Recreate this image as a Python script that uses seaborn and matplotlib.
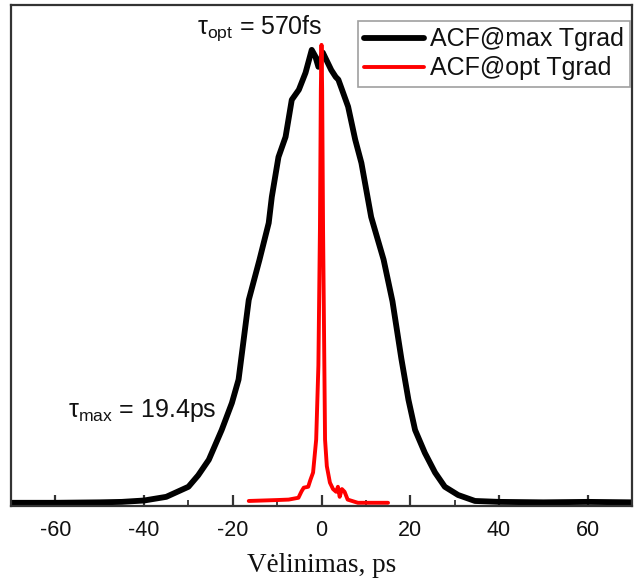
import matplotlib
matplotlib.use("Agg")
import matplotlib.pyplot as plt
import seaborn as sns
import pandas as pd
import numpy as np

# Black ACF (max temperature gradient), normalized
black_x = [-70, -60, -50, -45, -40, -35, -30, -27.8, -25.4, -22.5, -20.2, -18.7,
           -16.4, -14.0, -11.9, -11.2, -9.7, -8.1, -6.7, -5.1, -3.6, -2.2, -1.4,
           -0.7, 0.3, 1.2, 2.2, 3.2, 3.8, 4.4, 6.0, 7.6, 9.0, 11.2, 14.0, 16.0,
           18.0, 19.6, 21.1, 23.3, 25.6, 27.8, 30.8, 34.6, 40, 50, 60, 70]
black_y = [0.0, 0.0, 0.001, 0.002, 0.005, 0.013, 0.035, 0.06, 0.094, 0.159, 0.218, 0.269,
           0.443, 0.53, 0.611, 0.668, 0.755, 0.799, 0.880, 0.902, 0.939, 0.989, 0.975,
           0.952, 0.983, 0.965, 0.945, 0.93, 0.924, 0.908, 0.865, 0.793, 0.742, 0.624, 0.531, 0.44,
           0.315, 0.225, 0.159, 0.109, 0.066, 0.035, 0.017, 0.004, 0.002, 0.001, 0.002, 0.001]

# Red ACF (optimal temperature gradient), normalized
red_x = [-16.4, -10, -7.4, -5.2, -4.5, -4.0, -3.0, -2.5, -1.9, -1.2, -0.7, -0.35,
         -0.15, 0.0, 0.15, 0.35, 0.8, 1.2, 1.9, 2.6, 3.3, 3.7, 4.1, 4.6, 5.2, 5.9,
         8.2, 15.0]
red_y = [0.004, 0.006, 0.007, 0.011, 0.025, 0.033, 0.035, 0.05, 0.066, 0.138, 0.30, 0.60,
         0.90, 1.0, 0.90, 0.60, 0.138, 0.08, 0.044, 0.03, 0.024, 0.035, 0.013, 0.03, 0.024, 0.007,
         0.0, 0.0]

xticks = [-60, -40, -20, 0, 20, 40, 60]
labels = ["ACF@max Tgrad", "ACF@opt Tgrad"]

sns.set_style("ticks")
plt.rcParams['font.family'] = ['Liberation Sans', 'DejaVu Sans']
plt.rcParams['mathtext.fontset'] = 'custom'
plt.rcParams['mathtext.rm'] = 'Liberation Sans'
plt.rcParams['mathtext.it'] = 'Liberation Sans:italic'
plt.rcParams['text.color'] = '#111111'
plt.rcParams['xtick.labelcolor'] = '#111111'

fig = plt.figure(figsize=(6.34, 5.88), dpi=100)
ax = fig.add_axes([11/634, 82/588, 621/634, 501/588])

df_b = pd.DataFrame({"x": black_x, "y": black_y})
df_r = pd.DataFrame({"x": red_x, "y": red_y})
sns.lineplot(data=df_b, x="x", y="y", ax=ax, color="black", lw=4.2, label=labels[0], sort=False)
sns.lineplot(data=df_r, x="x", y="y", ax=ax, color="#ff0000", lw=2.8, label=labels[1], sort=False)

ax.set_xlim(-70, 69.5)
ax.set_ylim(-0.007, 1.087)
ax.set_xticks(xticks)
ax.set_xticklabels([str(t) for t in xticks], fontsize=15.5)
ax.set_xticks(np.arange(-70, 71, 10), minor=True)
ax.set_yticks([])
ax.tick_params(axis='x', which='major', direction='in', length=8, width=1.6, color='#333333', pad=10)
ax.tick_params(axis='x', which='minor', direction='in', length=4.5, width=1.3, color='#333333')
for s in ax.spines.values():
    s.set_visible(True)
    s.set_linewidth(1.6)
    s.set_color('#333333')

ax.set_xlabel("Vėlinimas, ps", fontsize=19.5, family='Liberation Serif', labelpad=9,
              color='#111111')
ax.set_ylabel("")

ax.text(-13.9, 1.025, r"τ$_{\mathrm{opt}}$ = 570fs", fontsize=18, ha='center', va='baseline')
ax.text(-40.5, 0.188, r"τ$_{\mathrm{max}}$ = 19.4ps", fontsize=18, ha='center', va='baseline')

leg = ax.legend(loc='upper right', bbox_to_anchor=(0.997, 0.968), borderaxespad=0,
                fontsize=18, frameon=True, fancybox=False, handlelength=2.4,
                handletextpad=0.25, borderpad=0.25, labelspacing=0.2)
leg.get_frame().set_edgecolor('#888888')
leg.get_frame().set_linewidth(1.2)

fig.savefig("out.png", dpi=100)
